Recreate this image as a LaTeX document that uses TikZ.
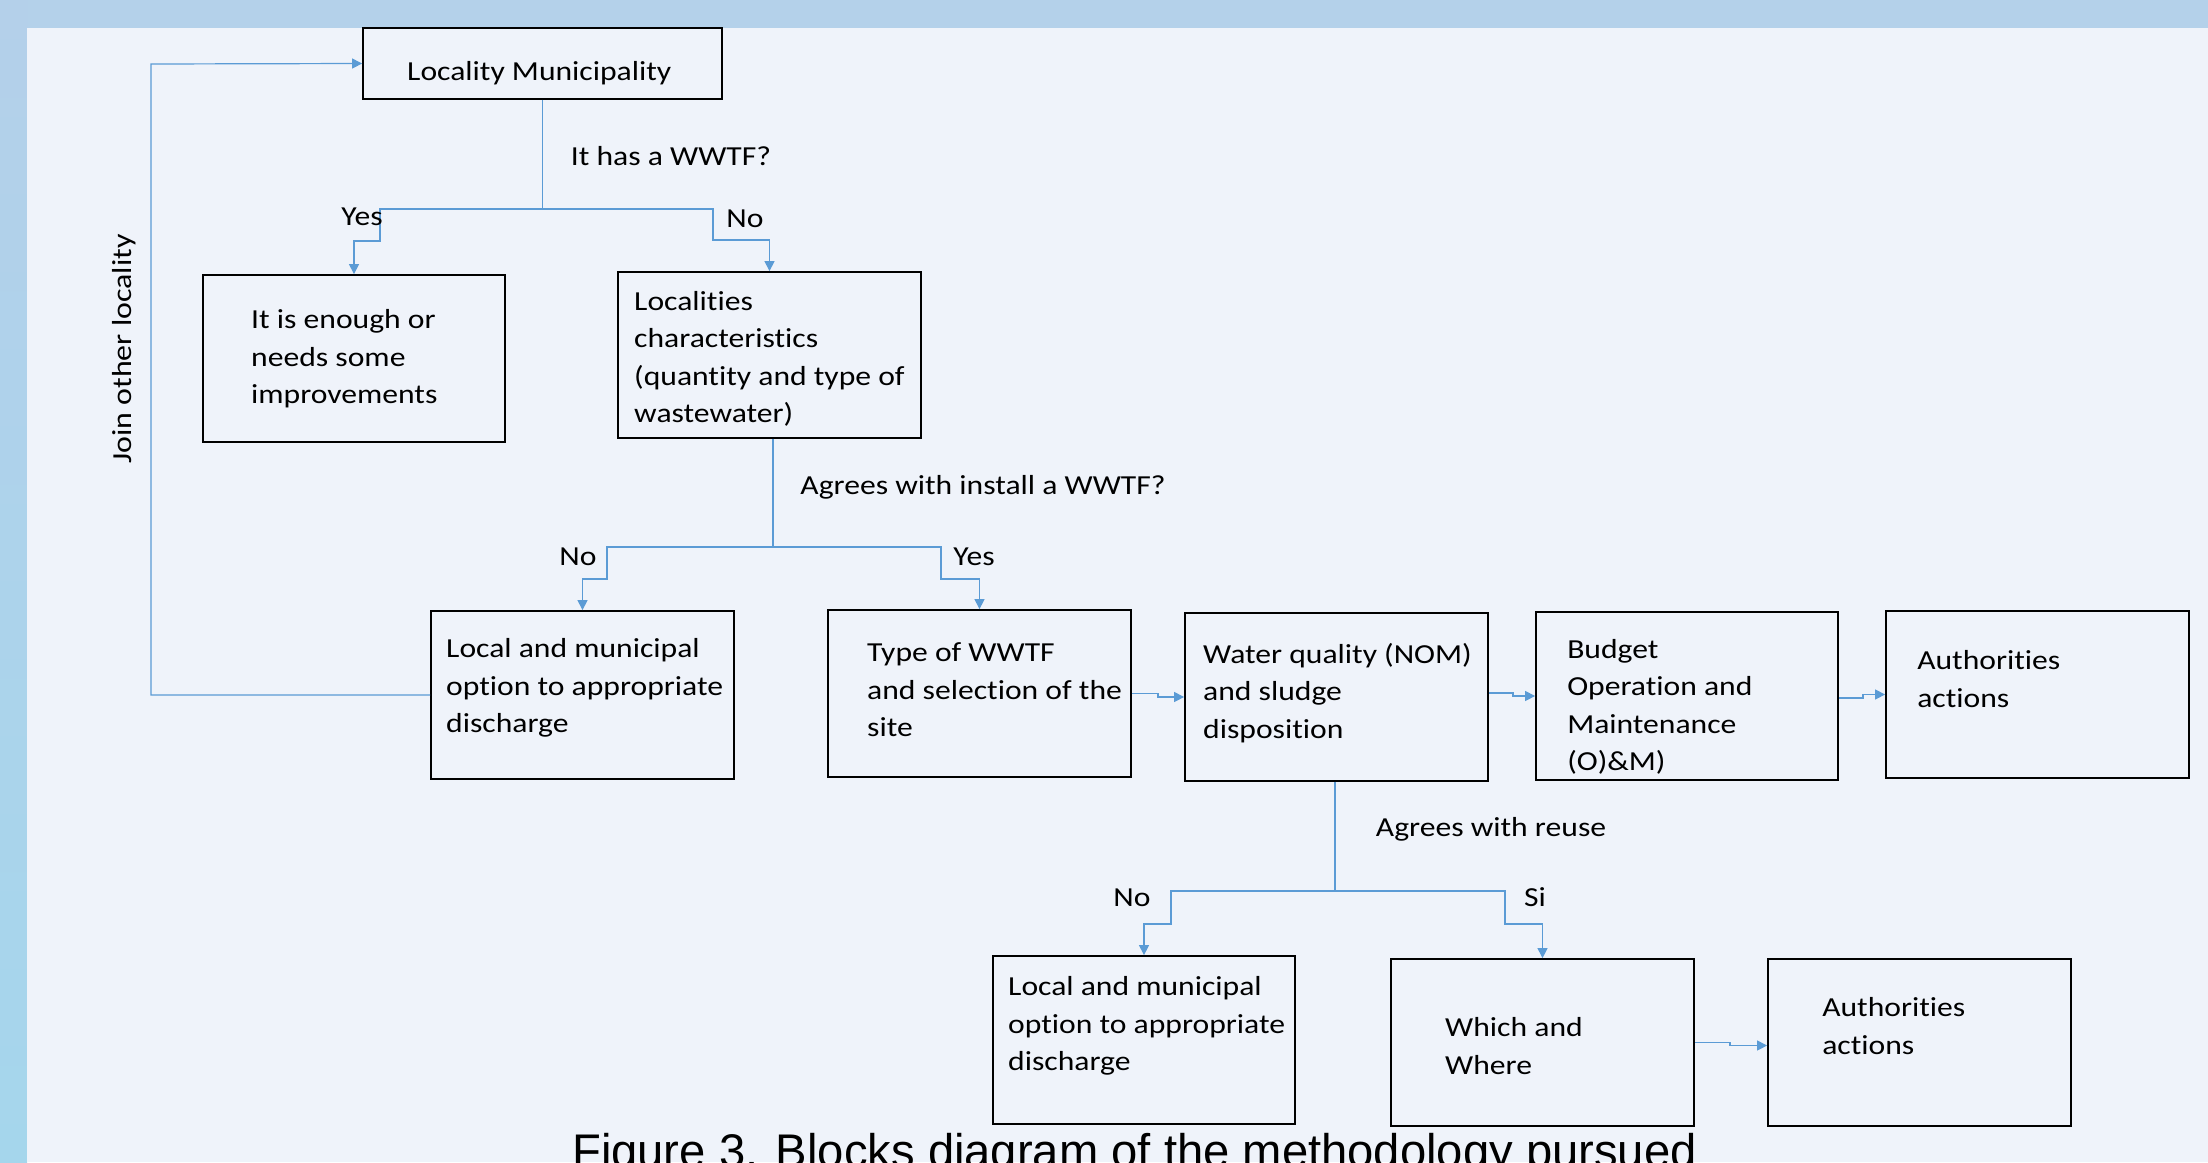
\documentclass[tikz,border=0pt]{standalone}
\usepackage{fontspec}
\setmainfont{Carlito}[Ligatures=NoCommon]
\newfontfamily\capfont{Liberation Sans}
\usetikzlibrary{arrows.meta}
\definecolor{panel}{HTML}{EFF3FA}
\definecolor{topband}{HTML}{B4D1EA}
\definecolor{sidetop}{HTML}{B4D0EA}
\definecolor{sidebot}{HTML}{A5D6EC}
\definecolor{connblue}{HTML}{5B9BD5}
\begin{document}
\begin{tikzpicture}[x=1pt,y=-1pt,
  box/.style={draw=black, line width=1.8pt, minimum width=303pt, minimum height=167pt, inner sep=0pt},
  txt/.style={anchor=west, align=left, inner sep=0pt, xscale=1.15, font=\fontsize{27.5}{37.5}\selectfont},
  lbl/.style={inner sep=0pt, xscale=1.15, font=\fontsize{27.5}{37.5}\selectfont},
  link/.style={draw=connblue, line width=1.2pt, -{Triangle[length=10pt,width=10pt]}},
]
\useasboundingbox (0,0) rectangle (2208,1162);
\clip (0,0) rectangle (2208,1162);
\fill[topband] (0,0) rectangle (2208,28);
\shade[top color=sidetop, bottom color=sidebot] (0,0) rectangle (27,1162);
\fill[panel] (27,28) rectangle (2208,1162);

% boxes
\node[box, minimum width=359pt, minimum height=71pt] (lm) at (542.5,63.5) {};
\node[box, minimum width=302pt] (enough) at (354,358.5) {};
\node[box, minimum height=166pt] (chars) at (769.5,355) {};
\node[box, minimum height=168pt] (loc1) at (582.5,695) {};
\node[box] (type) at (979.5,693.5) {};
\node[box, minimum height=168pt] (water) at (1336.5,697) {};
\node[box, minimum width=302pt, minimum height=168pt] (budget) at (1687,696) {};
\node[box] (auth1) at (2037.5,694.5) {};
\node[box, minimum width=302pt, minimum height=168pt] (loc2) at (1144,1040) {};
\node[box] (which) at (1542.5,1042.5) {};
\node[box] (auth2) at (1919.5,1042.5) {};

% box texts
\node[txt] (lmt) at (407,73) {Locality Municipality};
\node[txt] (enought) at (251,359) {It is enough or\\needs some\\improvements};
\node[txt] (charst) at (634,359) {Localities\\characteristics\\(quantity and type of\\wastewater)};
\node[txt] (loc1t) at (446,688) {Local and municipal\\option to appropriate\\discharge};
\node[txt] (typet) at (867,690) {Type of WWTF\\and selection of the\\site};
\node[txt] (watert) at (1203,693) {Water quality (NOM)\\and sludge\\disposition};
\node[txt] (budgett) at (1567,707) {Budget\\Operation and\\Maintenance\\(O)\&M)};
\node[txt] (auth1t) at (1917,679) {Authorities\\actions};
\node[txt] (loc2t) at (1008,1026) {Local and municipal\\option to appropriate\\discharge};
\node[txt] (whicht) at (1445,1046) {Which and\\Where};
\node[txt] (auth2t) at (1822,1026) {Authorities\\actions};

% decision connectors
\coordinate (a1) at (380,209); \coordinate (a2) at (380,241);
\coordinate (a3) at (713,209); \coordinate (a4) at (713,240);
\draw[link] (lm.south) |- (a1) -- (a2) -| (enough.north);
\draw[link] (lm.south) |- (a3) -- (a4) -| (chars.north);

\coordinate (b1) at (607,547); \coordinate (b2) at (607,579);
\coordinate (b3) at (941,547); \coordinate (b4) at (941,579);
\draw[link] ([xshift=3.5pt]chars.south) |- (b1) -- (b2) -| (loc1.north);
\draw[link] ([xshift=3.5pt]chars.south) |- (b3) -- (b4) -| (type.north);

\coordinate (c1) at (1171,891); \coordinate (c2) at (1171,924);
\coordinate (c3) at (1505,891); \coordinate (c4) at (1505,924);
\draw[link] ([xshift=-1.5pt]water.south) |- (c1) -- (c2) -| (loc2.north);
\draw[link] ([xshift=-1.5pt]water.south) |- (c3) -- (c4) -| (which.north);

% chain connectors
\coordinate (d1) at (1158,693.5);
\draw[link] (type.east) -- (d1) |- (water.west);
\coordinate (d2) at (1513,693);
\draw[link] (water.east |- d2) -- (d2) |- (budget.west);
\coordinate (d3) at (1863,698);
\draw[link] (budget.east |- d3) -- (d3) |- (auth1.west);
\coordinate (d4) at (1730,1042.5);
\draw[link] (which.east) -- (d4) |- ([yshift=-3pt]auth2.west);

% loop back
\coordinate (j1) at (151,64);
\draw[link] (loc1.west) -| (j1) -- (lm.west);
\node[inner sep=0pt, rotate=90, font=\fontsize{27.5}{37.5}\selectfont] (joint) at (124,349) {\scalebox{1.16}[1]{Join other locality}};

% labels
\node[lbl] (q1) at (671,156) {It has a WWTF?};
\node[lbl] (y1) at (362,217) {Yes};
\node[lbl] (n1) at (745,219) {No};
\node[lbl] (q2) at (983,487) {Agrees with install a WWTF?};
\node[lbl] (n2) at (578,557) {No};
\node[lbl] (y2) at (974,557) {Yes};
\node[lbl] (q3) at (1491,829) {Agrees with reuse};
\node[lbl] (n3) at (1132,898) {No};
\node[lbl] (s3) at (1535,897) {Si};

% caption (cut by the lower edge)
\node[anchor=base, inner sep=0pt, font=\capfont\fontsize{47.2}{50}\selectfont] (cap) at (1134.5,1167) {Figure 3. Blocks diagram of the methodology pursued};
\end{tikzpicture}
\end{document}
